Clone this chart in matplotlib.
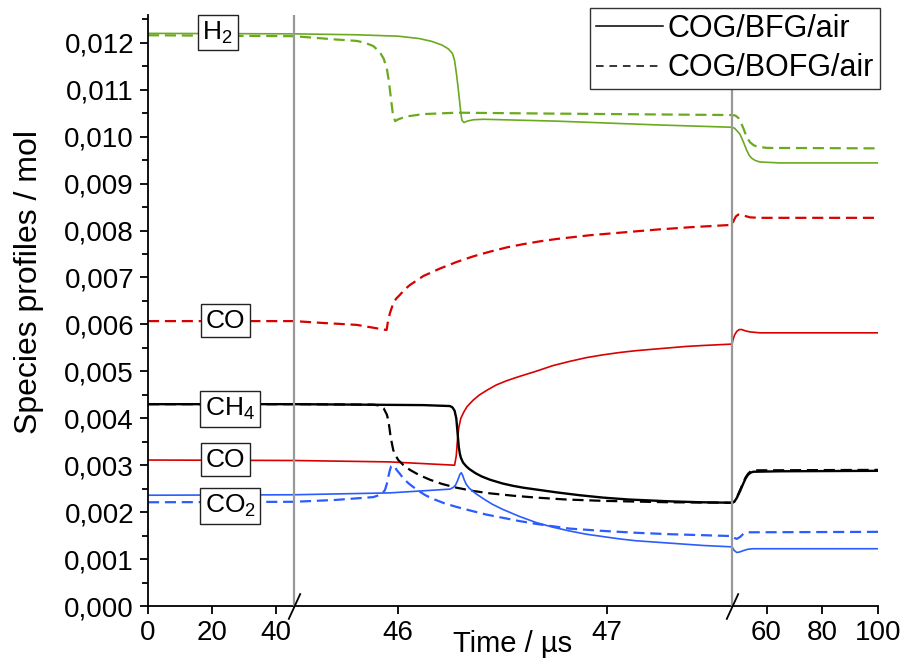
import numpy as np
import matplotlib
matplotlib.use("Agg")
import matplotlib.pyplot as plt
from matplotlib.lines import Line2D
from matplotlib.path import Path
from matplotlib.ticker import FixedLocator, MultipleLocator, FuncFormatter
import matplotlib.transforms as mtransforms

plt.rcParams['font.family'] = ['Liberation Sans', 'DejaVu Sans']
plt.rcParams['mathtext.default'] = 'regular'

# ---------------- data ----------------
# broken time axis: [0, 45.5] | [45.5, 47.6] | [47.6, 100]
breaks = [45.5, 47.6]
x_ticks = [0, 20, 40, 46, 47, 60, 80, 100]

# H2
t_h2_bfg = [0, 45.5, 45.8, 46.0, 46.1, 46.16, 46.21, 46.24, 46.26, 46.27, 46.28, 46.29, 46.30, 46.305, 46.315,
            46.33, 46.36, 46.41, 46.76, 47.24, 47.6, 48.5, 49.3, 50.48, 51.66, 52.87, 53.8, 54.67, 56.0, 57.66,
            64.8, 100]
h2_bfg = [0.01220, 0.01219, 0.01217, 0.01214, 0.01209, 0.01203, 0.01195, 0.01187, 0.01177, 0.01162, 0.01130,
          0.01092, 0.01050, 0.01035, 0.01030, 0.01033, 0.01036, 0.01037, 0.01033, 0.01025, 0.01020, 0.01018,
          0.01013, 0.01005, 0.00989, 0.00971, 0.00960, 0.00954, 0.00949, 0.00946, 0.00944, 0.00944]
t_h2_bofg = [0, 45.5, 45.7, 45.8, 45.84, 45.88, 45.91, 45.93, 45.945, 45.955, 45.965, 45.975, 45.985, 46.0,
             46.04, 46.12, 46.28, 46.76, 47.6, 48.8, 49.86, 50.8, 51.66, 52.5, 53.3, 54.07, 55.3, 56.47, 60.06,
             100]
h2_bofg = [0.01216, 0.01214, 0.01207, 0.01204, 0.01200, 0.01193, 0.01181, 0.01166, 0.01145, 0.01118, 0.01080,
           0.01045, 0.01033, 0.01037, 0.01043, 0.01048, 0.01051, 0.01049, 0.01046, 0.01045, 0.01040, 0.01030,
           0.01018, 0.01005, 0.00995, 0.00988, 0.00982, 0.00979, 0.00976, 0.00975]

# CO
t_co_bfg = [0, 45.5, 45.96, 46.27, 46.278, 46.283, 46.29, 46.30, 46.315, 46.33, 46.36, 46.39, 46.43, 46.47,
            46.52, 46.58, 46.66, 46.74, 46.82, 46.9, 46.98, 47.06, 47.14, 47.22, 47.30, 47.38, 47.46, 47.6,
            48.0, 48.5, 49.3, 50.2, 51.1, 52.5, 54.07, 57.66, 100]
co_bfg = [0.00311, 0.00310, 0.00307, 0.00300, 0.00320, 0.00350, 0.00380, 0.00400, 0.00414, 0.00425, 0.00439,
          0.00450, 0.00461, 0.00471, 0.00480, 0.00489, 0.00500, 0.00512, 0.00521, 0.00529, 0.00535, 0.00540,
          0.00544, 0.00547, 0.00550, 0.00553, 0.00555, 0.00558, 0.00568, 0.00577, 0.00585, 0.00589, 0.00589,
          0.00586, 0.00584, 0.00582, 0.00582]
t_co_bofg = [0, 45.5, 45.64, 45.80, 45.944, 45.95, 45.96, 45.976, 45.99, 46.008, 46.03, 46.056, 46.09, 46.12,
             46.16, 46.2, 46.24, 46.28, 46.36, 46.44, 46.52, 46.6, 46.68, 46.76, 46.92, 47.08, 47.24, 47.4,
             47.6, 48.3, 49.0, 49.86, 51.66, 54.07, 57.66, 100]
co_bofg = [0.00607, 0.00607, 0.00603, 0.00599, 0.00588, 0.00605, 0.00624, 0.00645, 0.00655, 0.00663, 0.00674,
           0.00684, 0.00694, 0.00703, 0.00711, 0.00719, 0.00726, 0.00733, 0.00745, 0.00755, 0.00764, 0.00771,
           0.00777, 0.00782, 0.00790, 0.00796, 0.00802, 0.00807, 0.00812, 0.00822, 0.00830, 0.00834, 0.00832,
           0.00828, 0.00827, 0.00827]

# CH4
t_ch4_bfg = [0, 45.5, 46.12, 46.248, 46.26, 46.27, 46.278, 46.283, 46.29, 46.295, 46.30, 46.31, 46.325, 46.34,
             46.37, 46.4, 46.44, 46.5, 46.55, 46.6, 46.68, 46.76, 46.87, 46.98, 47.1, 47.2, 47.3, 47.45, 47.6,
             48.4, 49.3, 50.5, 51.66, 52.5, 53.4, 54.3, 55.2, 64.8, 100]
ch4_bfg = [0.00430, 0.00430, 0.00428, 0.00426, 0.00423, 0.00416, 0.00400, 0.00375, 0.00339, 0.00325, 0.00316,
           0.00306, 0.00298, 0.00292, 0.00283, 0.00276, 0.00269, 0.00261, 0.00256, 0.00252, 0.00247, 0.00242,
           0.00236, 0.00231, 0.00227, 0.00225, 0.00223, 0.00221, 0.00220, 0.00222, 0.00230, 0.00245, 0.00261,
           0.00272, 0.00280, 0.00284, 0.00286, 0.00287, 0.00288]
t_ch4_bofg = [0, 45.5, 45.88, 45.91, 45.93, 45.945, 45.952, 45.958, 45.963, 45.97, 45.976, 45.988, 46.0, 46.025,
              46.056, 46.1, 46.152, 46.21, 46.28, 46.36, 46.44, 46.55, 46.66, 46.8, 46.98, 47.3, 47.6, 48.4,
              49.3, 50.5, 51.66, 52.5, 53.4, 54.3, 55.2, 100]
ch4_bofg = [0.00430, 0.00430, 0.00429, 0.00427, 0.00421, 0.00408, 0.00396, 0.00378, 0.00361, 0.00345, 0.00332,
            0.00320, 0.00311, 0.00300, 0.00290, 0.00279, 0.00269, 0.00260, 0.00252, 0.00245, 0.00240, 0.00235,
            0.00231, 0.00227, 0.00224, 0.00221, 0.00220, 0.00222, 0.00231, 0.00247, 0.00263, 0.00274, 0.00282,
            0.00287, 0.00289, 0.00290]

# CO2
t_co2_bfg = [0, 45.5, 45.96, 46.248, 46.265, 46.275, 46.285, 46.295, 46.302, 46.308, 46.315, 46.325, 46.34,
             46.37, 46.41, 46.45, 46.5, 46.58, 46.66, 46.74, 46.82, 46.9, 46.98, 47.06, 47.14, 47.3, 47.46, 47.6,
             48.3, 49.3, 50.3, 51.66, 53.4, 55.2, 100]
co2_bfg = [0.00236, 0.00237, 0.00241, 0.00249, 0.00253, 0.00258, 0.00268, 0.00280, 0.00284, 0.00279, 0.00270,
           0.00260, 0.00251, 0.00240, 0.00228, 0.00217, 0.00206, 0.00191, 0.00178, 0.00168, 0.00160, 0.00153,
           0.00148, 0.00143, 0.00139, 0.00134, 0.00129, 0.00126, 0.00119, 0.00114, 0.00115, 0.00118, 0.00121,
           0.00122, 0.00122]
t_co2_bofg = [0, 45.5, 45.7, 45.88, 45.92, 45.936, 45.945, 45.952, 45.96, 45.966, 45.974, 45.982, 45.992,
              46.005, 46.024, 46.05, 46.088, 46.13, 46.168, 46.22, 46.28, 46.34, 46.42, 46.5, 46.58, 46.66,
              46.74, 46.82, 46.98, 47.14, 47.3, 47.6, 48.5, 49.3, 50.5, 51.7, 52.9, 100]
co2_bofg = [0.00221, 0.00222, 0.00226, 0.00232, 0.00238, 0.00247, 0.00260, 0.00275, 0.00290, 0.00298, 0.00300,
            0.00297, 0.00290, 0.00283, 0.00272, 0.00261, 0.00248, 0.00236, 0.00228, 0.00219, 0.00211, 0.00204,
            0.00195, 0.00188, 0.00181, 0.00175, 0.00170, 0.00165, 0.00160, 0.00156, 0.00153, 0.00149, 0.00145,
            0.00143, 0.00147, 0.00154, 0.00157, 0.00158]

# species labels (text, time, value)
label_text = ["H$_2$", "CO", "CH$_4$", "CO", "CO$_2$"]
label_t = [21.7, 24.0, 25.6, 24.0, 25.6]
label_v = [0.01222, 0.00608, 0.00420, 0.00312, 0.00213]

legend_labels = ["COG/BFG/air", "COG/BOFG/air"]

# ---------------- scale ----------------
seg_t = np.array([0.0, breaks[0], breaks[1], 100.0])
seg_u = np.array([0.0, 0.2, 0.8, 1.0])


def fwd(t):
    t = np.asarray(t, dtype=float)
    u = np.interp(t, seg_t, seg_u)
    lo = t < seg_t[0]
    hi = t > seg_t[-1]
    u = np.where(lo, seg_u[0] + (t - seg_t[0]) * (seg_u[1] - seg_u[0]) / (seg_t[1] - seg_t[0]), u)
    u = np.where(hi, seg_u[-1] + (t - seg_t[-1]) * (seg_u[-1] - seg_u[-2]) / (seg_t[-1] - seg_t[-2]), u)
    return u


def inv(u):
    u = np.asarray(u, dtype=float)
    t = np.interp(u, seg_u, seg_t)
    lo = u < seg_u[0]
    hi = u > seg_u[-1]
    t = np.where(lo, seg_t[0] + (u - seg_u[0]) * (seg_t[1] - seg_t[0]) / (seg_u[1] - seg_u[0]), t)
    t = np.where(hi, seg_t[-1] + (u - seg_u[-1]) * (seg_t[-1] - seg_t[-2]) / (seg_u[-1] - seg_u[-2]), t)
    return t


# ---------------- figure ----------------
fig = plt.figure(figsize=(9.0, 6.64), dpi=100)
ax = fig.add_axes([148 / 900, 1 - 606 / 664, 730 / 900, (606 - 14.6) / 664])
ax.set_xscale('function', functions=(fwd, inv))
ax.set_xlim(0, 100)
ax.set_ylim(0, 0.0126)

GREEN = '#6aaa1e'
RED = '#d90000'
BLUE = '#2a5cff'
BLACK = '#000000'
dash = (0, (5, 2.6))

series = [
    (t_h2_bfg, h2_bfg, GREEN, '-'), (t_h2_bofg, h2_bofg, GREEN, dash),
    (t_co_bfg, co_bfg, RED, '-'), (t_co_bofg, co_bofg, RED, dash),
    (t_ch4_bfg, ch4_bfg, BLACK, '-'), (t_ch4_bofg, ch4_bofg, BLACK, dash),
    (t_co2_bfg, co2_bfg, BLUE, '-'), (t_co2_bofg, co2_bofg, BLUE, dash),
]
for t, v, c, ls in series:
    lw = 1.6 if ls != '-' else (1.7 if c == BLACK else 1.2)
    ax.plot(t, v, color=c, linestyle=ls, lw=lw, zorder=2, solid_joinstyle='round')

# break lines
for b in breaks:
    ax.axvline(b, color='#999999', lw=1.6, zorder=3)
brk_marker = Path([(-0.23, -0.5), (0.23, 0.5)], [Path.MOVETO, Path.LINETO])
trans = mtransforms.blended_transform_factory(ax.transData, ax.transAxes)
ax.plot(breaks, [0, 0], linestyle='none', marker=brk_marker, markersize=19, color='black',
        markeredgewidth=1.3, transform=trans, clip_on=False, zorder=5)

# species labels
for s, t, v in zip(label_text, label_t, label_v):
    ax.text(t, v, s, fontsize=19, ha='center', va='center', zorder=4,
            bbox=dict(boxstyle='square,pad=0.18', facecolor='white', edgecolor='#222222', lw=1.0))

# spines and ticks
for sp in ['top', 'right']:
    ax.spines[sp].set_visible(False)
for sp in ['left', 'bottom']:
    ax.spines[sp].set_linewidth(1.3)

ax.xaxis.set_major_locator(FixedLocator(x_ticks))
ax.xaxis.set_major_formatter(FuncFormatter(lambda v, p: f"{v:g}"))
ax.xaxis.set_minor_locator(FixedLocator([]))
ax.yaxis.set_major_locator(MultipleLocator(0.001))
ax.yaxis.set_minor_locator(MultipleLocator(0.0005))
ax.yaxis.set_major_formatter(FuncFormatter(lambda v, p: f"{v:.3f}".replace('.', ',')))
ax.tick_params(axis='both', which='major', direction='out', length=6, width=1.3, labelsize=20, pad=4)
ax.tick_params(axis='y', which='minor', direction='out', length=4, width=1.3)

ax.set_xlabel("Time / µs", fontsize=21)
ax.set_ylabel("Species profiles / mol", fontsize=23)
ax.xaxis.set_label_coords(0.5, -0.041)
ax.yaxis.set_label_coords(-0.142, 0.548)

handles = [Line2D([], [], color='black', lw=1.1, linestyle='-'),
           Line2D([], [], color='black', lw=1.1, linestyle=(0, (5, 3.8)))]
leg = fig.legend(handles, legend_labels, loc='upper right', bbox_to_anchor=(880 / 900, 1 - 8 / 664),
                 fontsize=22, frameon=True, fancybox=False, framealpha=1, edgecolor='#333333',
                 handlelength=2.2, handletextpad=0.15, borderpad=0.2, labelspacing=0.3, borderaxespad=0)
leg.get_frame().set_linewidth(1.0)

fig.savefig("out.png", dpi=100)
